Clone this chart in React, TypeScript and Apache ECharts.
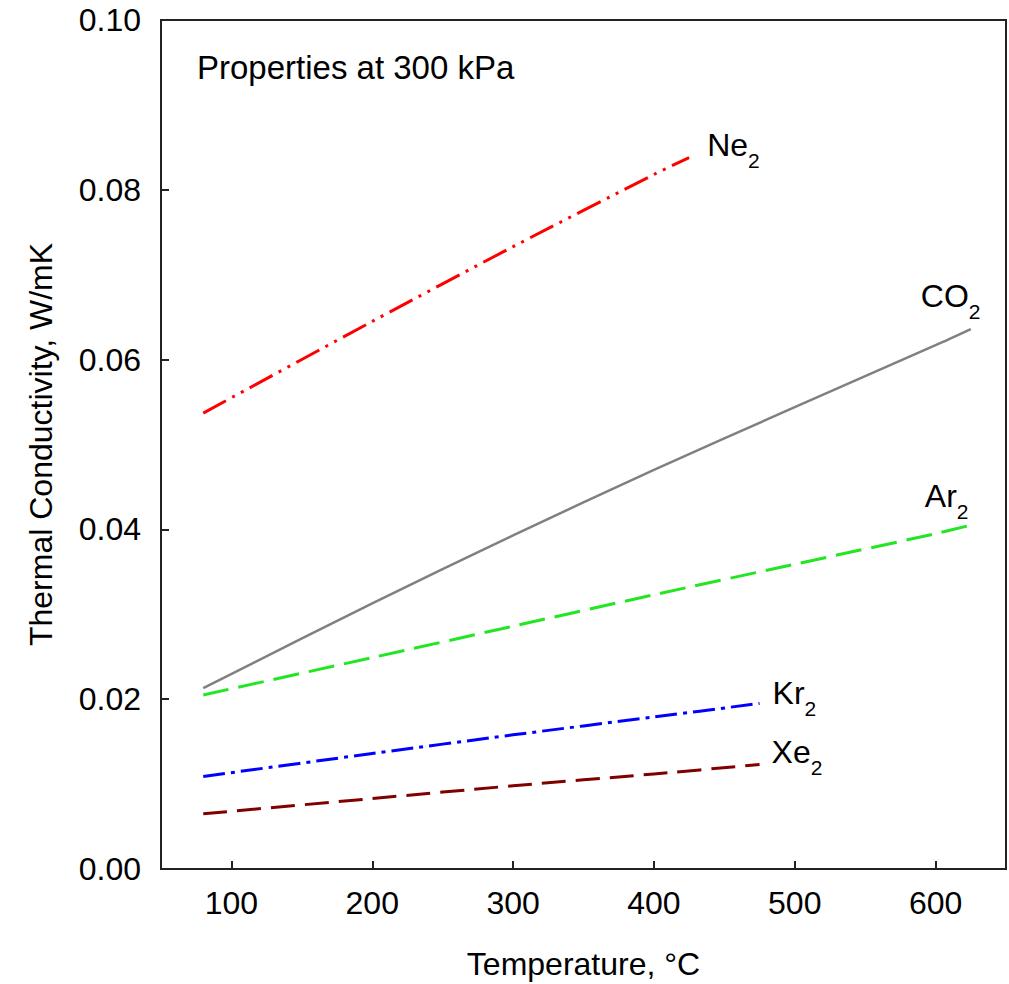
import React, { useEffect, useRef } from "react";
import * as echarts from "echarts";

const xTicks = [100, 200, 300, 400, 500, 600];
const yTicks = [0, 0.02, 0.04, 0.06, 0.08, 0.1];

const neT = [80, 200, 300, 400, 425];
const neK = [0.0537, 0.0645, 0.0733, 0.0818, 0.0838];

const co2T = [80, 200, 300, 400, 500, 600, 625];
const co2K = [0.0213, 0.0313, 0.0393, 0.047, 0.0544, 0.0617, 0.0636];

const arT = [80, 200, 300, 400, 500, 600, 625];
const arK = [0.0205, 0.0249, 0.0286, 0.0323, 0.0359, 0.0395, 0.0405];

const krT = [80, 200, 300, 400, 475];
const krK = [0.0109, 0.0136, 0.0158, 0.0179, 0.0195];

const xeT = [80, 200, 300, 400, 475];
const xeK = [0.0065, 0.0083, 0.0098, 0.0112, 0.0123];

const FONT = "'Liberation Sans', Arial, sans-serif";
const FS = 32;

const pairs = (t: number[], k: number[]) => t.map((v, i) => [v, k[i]]);

const sub = (base: string, dx: number, dy: number) => ({
  show: true,
  formatter: `{a|${base}}{b|2}`,
  align: "left",
  verticalAlign: "middle",
  distance: 0,
  offset: [dx, dy],
  rich: {
    a: { fontSize: FS, lineHeight: 32, fontFamily: FONT, color: "#000", verticalAlign: "top" },
    b: { fontSize: 21, lineHeight: 42, fontFamily: FONT, color: "#000", verticalAlign: "bottom" },
  },
});

export default function App() {
  const ref = useRef<HTMLDivElement>(null);
  useEffect(() => {
    if (!ref.current) return;
    const chart = echarts.init(ref.current, null, { renderer: "svg" });
    const mk = (name: string, t: number[], k: number[], color: string, width: number, type: any, label: any) => ({
      name,
      type: "line",
      data: pairs(t, k),
      showSymbol: false,
      symbol: "none",
      smooth: 0.3,
      lineStyle: { color, width, type, cap: "butt" },
      endLabel: label,
      z: 3,
    });
    chart.setOption({
      animation: false,
      backgroundColor: "#fff",
      textStyle: { fontFamily: FONT },
      grid: {
        left: 161,
        right: 3,
        top: 20,
        bottom: 115,
        show: true,
        borderColor: "#222",
        borderWidth: 2,
        containLabel: false,
        outerBoundsMode: "none",
      },
      xAxis: {
        type: "value",
        min: 50,
        max: 650,
        name: "Temperature, °C",
        nameLocation: "middle",
        nameGap: 79,
        nameTextStyle: { fontSize: FS, fontFamily: FONT, color: "#000" },
        axisLine: { show: true, lineStyle: { color: "#222", width: 2 } },
        axisTick: { show: true, inside: true, length: 8, customValues: xTicks, lineStyle: { color: "#222", width: 2 } },
        axisLabel: { customValues: xTicks, fontSize: FS, fontFamily: FONT, color: "#000", margin: 18 },
        splitLine: { show: false },
      },
      yAxis: {
        type: "value",
        min: 0,
        max: 0.1,
        interval: 0.02,
        name: "Thermal Conductivity, W/mK",
        nameLocation: "middle",
        nameGap: 104,
        nameRotate: 90,
        nameTextStyle: { fontSize: FS, fontFamily: FONT, color: "#000" },
        axisLine: { show: true, lineStyle: { color: "#222", width: 2 } },
        axisTick: { show: true, inside: true, length: 8, customValues: yTicks, lineStyle: { color: "#222", width: 2 } },
        axisLabel: {
          fontSize: FS,
          fontFamily: FONT,
          color: "#000",
          margin: 20,
          formatter: (v: number) => v.toFixed(2),
        },
        splitLine: { show: false },
      },
      graphic: [
        {
          type: "text",
          left: 197,
          top: 51,
          style: { text: "Properties at 300 kPa", fontSize: 33, fontFamily: FONT, fill: "#000" },
        },
      ],
      series: [
        mk("Ne2", neT, neK, "#ff0000", 3, [26, 7, 3, 7, 3, 7], sub("Ne", 18, -8)),
        mk("CO2", co2T, co2K, "#808080", 2.5, "solid", sub("CO", -50, -28)),
        mk("Ar2", arT, arK, "#22e622", 3, [26, 10], sub("Ar", -46, -24)),
        mk("Kr2", krT, krK, "#0000ff", 3, [22, 6, 4, 6], sub("Kr", 13, -5.5)),
        mk("Xe2", xeT, xeK, "#800000", 3, [24, 10], sub("Xe", 12, -7.5)),
      ],
    });
    return () => chart.dispose();
  }, []);
  return <div ref={ref} style={{ position: "absolute", left: 0, top: 0, width: 1009, height: 984 }} />;
}
